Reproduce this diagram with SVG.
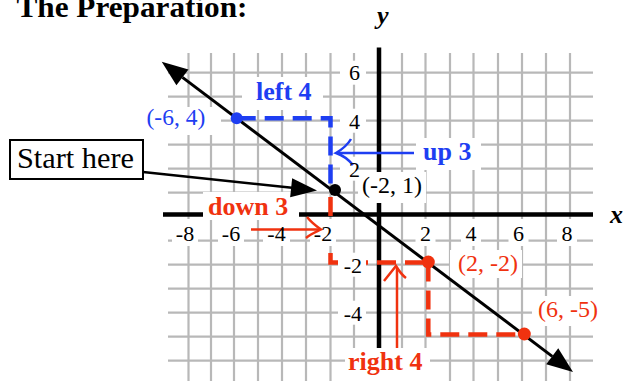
<svg xmlns="http://www.w3.org/2000/svg" width="625" height="381" viewBox="0 0 625 381">
<style>
.grid line{stroke:#b8b8b8;stroke-width:2.2}
.axis{stroke:#000;stroke-width:4.5}
.bg{fill:#fff}
.t{font-family:"Liberation Serif","Times New Roman",serif;fill:#000}
.tick{font-size:22px}
.b{font-weight:bold;font-size:26px}
.blue{fill:#1e3ef2}
.red{fill:#f0320f}
.dashB{fill:none;stroke:#1e3ef2;stroke-width:4.5;stroke-dasharray:19 9}
.dashR{fill:none;stroke:#f0320f;stroke-width:4.5;stroke-dasharray:19 9}
.arrB{fill:none;stroke:#1e3ef2;stroke-width:2.5}
.arrR{fill:none;stroke:#f0320f;stroke-width:2.5}
</style>
<rect width="625" height="381" fill="#fff"/>
<g class="grid" id="grid">
<line x1="188.5" y1="53" x2="188.5" y2="381"/>
<line x1="211" y1="53" x2="211" y2="381"/>
<line x1="234" y1="53" x2="234" y2="381"/>
<line x1="258" y1="53" x2="258" y2="381"/>
<line x1="282" y1="53" x2="282" y2="381"/>
<line x1="306" y1="53" x2="306" y2="381"/>
<line x1="330.5" y1="53" x2="330.5" y2="381"/>
<line x1="354" y1="53" x2="354" y2="381"/>
<line x1="402" y1="53" x2="402" y2="381"/>
<line x1="425.5" y1="53" x2="425.5" y2="381"/>
<line x1="450" y1="53" x2="450" y2="381"/>
<line x1="473.5" y1="53" x2="473.5" y2="381"/>
<line x1="498" y1="53" x2="498" y2="381"/>
<line x1="522" y1="53" x2="522" y2="381"/>
<line x1="546" y1="53" x2="546" y2="381"/>
<line x1="570" y1="53" x2="570" y2="381"/>
<line x1="168" y1="72.7" x2="593" y2="72.7"/>
<line x1="168" y1="96.7" x2="593" y2="96.7"/>
<line x1="168" y1="120.7" x2="593" y2="120.7"/>
<line x1="168" y1="144.7" x2="593" y2="144.7"/>
<line x1="168" y1="168.7" x2="593" y2="168.7"/>
<line x1="168" y1="192.7" x2="593" y2="192.7"/>
<line x1="168" y1="240.7" x2="593" y2="240.7"/>
<line x1="168" y1="264.7" x2="593" y2="264.7"/>
<line x1="168" y1="288.7" x2="593" y2="288.7"/>
<line x1="168" y1="312.7" x2="593" y2="312.7"/>
<line x1="168" y1="336.7" x2="593" y2="336.7"/>
<line x1="168" y1="360.7" x2="593" y2="360.7"/>
</g>
<g id="axes">
<line class="axis" x1="163" y1="214.5" x2="593" y2="214.5"/>
<line class="axis" x1="379" y1="47.5" x2="379" y2="381"/>
</g>
<g id="steps">
<path class="dashB" d="M236.7,118.3 H330.5 V186"/>
<path class="dashR" d="M330.5,197 V262.5 H428.3"/>
<path class="dashR" d="M428.3,262.5 V334.5 H524.3"/>
</g>
<g id="label-backgrounds">
<rect class="bg" x="340" y="60.7" width="26" height="24"/>
<rect class="bg" x="340" y="108.7" width="26" height="24"/>
<rect class="bg" x="340" y="156.7" width="18" height="24"/>
<rect class="bg" x="338" y="252.7" width="28" height="24"/>
<rect class="bg" x="338" y="300.7" width="28" height="24"/>
<rect class="bg" x="172" y="219" width="26" height="27"/>
<rect class="bg" x="218" y="219" width="26" height="27"/>
<rect class="bg" x="263" y="219" width="27" height="27"/>
<rect class="bg" x="310" y="219" width="26" height="27"/>
<rect class="bg" x="415.5" y="219" width="20" height="27"/>
<rect class="bg" x="461" y="219" width="20" height="27"/>
<rect class="bg" x="508.5" y="219" width="20" height="27"/>
<rect class="bg" x="557" y="219" width="20" height="27"/>
<rect class="bg" x="140" y="107" width="81" height="28"/>
<rect class="bg" x="242" y="77" width="81" height="33"/>
<rect class="bg" x="416" y="138" width="65" height="32"/>
<rect class="bg" x="358" y="172" width="68" height="31"/>
<rect class="bg" x="203" y="192" width="96" height="28"/>
<rect class="bg" x="450" y="250" width="72" height="28"/>
<rect class="bg" x="532" y="296" width="72" height="30"/>
<rect class="bg" x="345" y="348" width="85" height="33"/>
</g>
<g id="connectors">
<line x1="182.46" y1="77.36" x2="552.24" y2="356.34" stroke="#000" stroke-width="3"/>
<polygon points="161.7,61.7 176.44,85.34 188.48,69.38" fill="#000"/>
<polygon points="573,372 546.22,364.32 558.26,348.36" fill="#000"/>
<line x1="143" y1="172" x2="292" y2="187.7" stroke="#000" stroke-width="2.5"/>
<polygon points="317,190.5 290.14,197.19 292.16,178.29" fill="#000"/>
<path class="arrB" d="M414,153 H337"/>
<path class="arrB" d="M351,139 C347,146 341,150 336,153 C342,155 348,159 353,165"/>
<path class="arrR" d="M251,229.5 H319"/>
<path class="arrR" d="M307,217 C311,222 316,226 321,229.5 C316,232 311,234 306,238"/>
<path class="arrR" d="M397,348 V268"/>
<path class="arrR" d="M384,281 C388,276 392,271 396,266 C399,271 402,275 406,278"/>
</g>
<g id="start-here">
<rect x="10" y="140" width="133" height="39" fill="#fff" stroke="#000" stroke-width="2"/>
<text class="t" x="17" y="168" font-size="30" textLength="117" lengthAdjust="spacingAndGlyphs">Start here</text>
</g>
<g id="point-a">
<circle cx="236.7" cy="118.3" r="6" fill="#1e3ef2"/>
<text class="t blue" x="146.5" y="125" font-size="23.5">(-6, 4)</text>
</g>
<g id="point-b">
<circle cx="335" cy="190" r="6" fill="#000"/>
<text class="t" x="362" y="193" font-size="24">(-2, 1)</text>
</g>
<g id="point-c">
<circle cx="428.3" cy="262" r="6.5" fill="#f0320f"/>
<text class="t red" x="458" y="271" font-size="24">(2, -2)</text>
</g>
<g id="point-d">
<circle cx="524.3" cy="334" r="6.5" fill="#f0320f"/>
<text class="t red" x="538" y="317" font-size="24">(6, -5)</text>
</g>
<g id="labels">
<text class="t" x="16.5" y="17" font-size="30" font-weight="bold" textLength="231" lengthAdjust="spacingAndGlyphs">The Preparation:</text>
<text class="t" x="377" y="24" font-size="26" font-weight="bold" font-style="italic">y</text>
<text class="t" x="610" y="223" font-size="26" font-weight="bold" font-style="italic">x</text>
<text class="t b blue" x="256" y="100">left 4</text>
<text class="t b blue" x="423" y="160">up 3</text>
<text class="t b red" x="208" y="215">down 3</text>
<text class="t b red" x="348" y="370">right 4</text>
</g>
<g id="ticks" class="t tick">
<text x="185" y="241" text-anchor="middle">-8</text>
<text x="231" y="241" text-anchor="middle">-6</text>
<text x="276.5" y="241" text-anchor="middle">-4</text>
<text x="323" y="241" text-anchor="middle">-2</text>
<text x="425.5" y="241" text-anchor="middle">2</text>
<text x="471" y="241" text-anchor="middle">4</text>
<text x="518.5" y="241" text-anchor="middle">6</text>
<text x="567" y="241" text-anchor="middle">8</text>
<text x="360" y="80" text-anchor="end">6</text>
<text x="360" y="128.5" text-anchor="end">4</text>
<text x="360" y="176.5" text-anchor="end">2</text>
<text x="362" y="272.5" text-anchor="end">-2</text>
<text x="362" y="320.5" text-anchor="end">-4</text>
</g>
</svg>
